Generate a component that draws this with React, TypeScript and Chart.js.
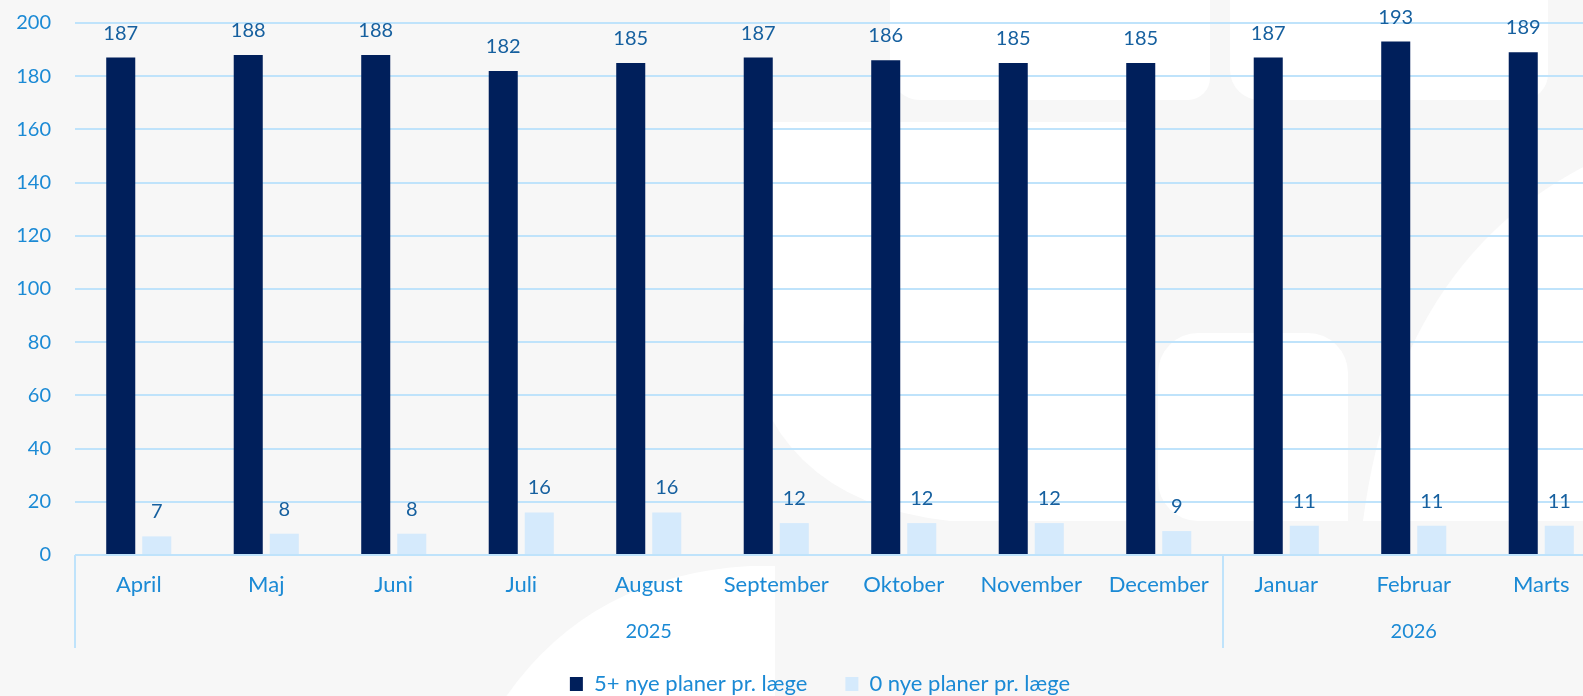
import React, { useEffect, useRef } from 'react';
import { Chart, registerables } from 'chart.js';

Chart.register(...registerables);

const months = ['April', 'Maj', 'Juni', 'Juli', 'August', 'September', 'Oktober', 'November', 'December', 'Januar', 'Februar', 'Marts'];
const years = ['2025', '2026'];
const yearSpans = [9, 3];
const seriesNames = ['5+ nye planer pr. læge', '0 nye planer pr. læge'];
const fivePlus = [187, 188, 188, 182, 185, 187, 186, 185, 185, 187, 193, 189];
const zeroPlans = [7, 8, 8, 16, 16, 12, 12, 12, 9, 11, 11, 11];
const yMin = 0;
const yMax = 200;
const yStep = 20;

const FONT = "Lato, 'Open Sans', sans-serif";
const BG = '#f7f7f7';
const DARK = '#001f5b';
const LIGHT = '#d5eafc';
const GRID = '#bfe3fb';
const TICK = '#1b8ad5';
const VALUE = '#16609f';

const backgroundPlugin = {
  id: 'bgWatermark',
  beforeDraw(chart: any) {
    const ctx = chart.ctx;
    const w = chart.width;
    const h = chart.height;
    ctx.save();
    ctx.fillStyle = BG;
    ctx.fillRect(0, 0, w, h);
    ctx.fillStyle = '#ffffff';
    // top blocks
    ctx.beginPath();
    ctx.roundRect(890, -40, 320, 140, [0, 0, 22, 30]);
    ctx.fill();
    ctx.beginPath();
    ctx.roundRect(1230, -40, 318, 140, [0, 0, 26, 30]);
    ctx.fill();
    // big middle region
    ctx.beginPath();
    ctx.moveTo(743, 122);
    ctx.lineTo(1150, 122);
    ctx.lineTo(1150, 521);
    ctx.lineTo(950, 521);
    ctx.quadraticCurveTo(760, 500, 743, 320);
    ctx.closePath();
    ctx.fill();
    // rounded window
    ctx.beginPath();
    ctx.roundRect(1158, 333, 190, 188, [40, 40, 0, 40]);
    ctx.fill();
    // diagonal band on the right
    ctx.beginPath();
    ctx.moveTo(w, 150);
    ctx.quadraticCurveTo(1400, 240, 1363, 521);
    ctx.lineTo(w, 521);
    ctx.closePath();
    ctx.fill();
    // bottom wedge
    ctx.beginPath();
    ctx.moveTo(505, h + 2);
    ctx.quadraticCurveTo(590, 575, 750, 566);
    ctx.lineTo(775, 566);
    ctx.lineTo(775, h + 2);
    ctx.closePath();
    ctx.fill();
    ctx.restore();
  },
};

const valueLabelPlugin = {
  id: 'valueLabels',
  afterDatasetsDraw(chart: any) {
    const ctx = chart.ctx;
    ctx.save();
    ctx.font = `20px ${FONT}`;
    ctx.fillStyle = VALUE;
    ctx.textAlign = 'center';
    ctx.textBaseline = 'alphabetic';
    chart.data.datasets.forEach((ds: any, di: number) => {
      const meta = chart.getDatasetMeta(di);
      meta.data.forEach((el: any, i: number) => {
        ctx.fillText(String(ds.data[i]), el.x, el.y - 18);
      });
    });
    ctx.restore();
  },
};

const yearGroupPlugin = {
  id: 'yearGroups',
  afterDraw(chart: any) {
    const ctx = chart.ctx;
    const xs = chart.scales.x;
    const bottom = chart.chartArea.bottom;
    const cw = xs.getPixelForValue(1) - xs.getPixelForValue(0);
    ctx.save();
    ctx.strokeStyle = GRID;
    ctx.lineWidth = 2;
    ctx.font = `20px ${FONT}`;
    ctx.fillStyle = TICK;
    ctx.textAlign = 'center';
    ctx.textBaseline = 'middle';
    let start = 0;
    years.forEach((yr, gi) => {
      const span = yearSpans[gi];
      const x0 = xs.getPixelForValue(start) - cw / 2;
      const x1 = xs.getPixelForValue(start + span - 1) + cw / 2;
      ctx.beginPath();
      ctx.moveTo(Math.round(x0), bottom);
      ctx.lineTo(Math.round(x0), 648);
      ctx.stroke();
      ctx.fillText(yr, (x0 + x1) / 2, 632);
      start += span;
    });
    ctx.restore();
  },
};

const legendShiftPlugin = {
  id: 'legendShift',
  afterLayout(chart: any) {
    const lg = chart.legend;
    if (!lg) return;
    const dx = 820 - (lg.left + lg.right) / 2;
    const dy = 684 - (lg.top + 38 + 11);
    lg.left += dx;
    lg.right += dx;
    lg.top += dy;
    lg.bottom += dy;
  },
};

export default function App() {
  const canvasRef = useRef<HTMLCanvasElement | null>(null);

  useEffect(() => {
    if (!canvasRef.current) return;
    const chart = new Chart(canvasRef.current, {
      type: 'bar',
      data: {
        labels: months,
        datasets: [
          {
            label: seriesNames[0],
            data: fivePlus,
            backgroundColor: DARK,
            categoryPercentage: 0.565,
            barPercentage: 0.806,
          },
          {
            label: seriesNames[1],
            data: zeroPlans,
            backgroundColor: LIGHT,
            categoryPercentage: 0.565,
            barPercentage: 0.806,
          },
        ],
      },
      options: {
        animation: false,
        responsive: true,
        maintainAspectRatio: false,
        layout: { padding: { top: 23, left: 0, right: 15, bottom: 0 } },
        scales: {
          x: {
            grid: { display: false, drawTicks: false },
            border: { display: false },
            ticks: { color: TICK, font: { family: FONT, size: 22 }, padding: 17, maxRotation: 0, autoSkip: false },
            afterFit(scale: any) {
              const lgH = scale.chart.legend ? scale.chart.legend.height : 0;
              scale.height = 696 - 555 - lgH;
              scale.paddingLeft = 0;
              scale.paddingRight = 0;
            },
          },
          y: {
            min: yMin,
            max: yMax,
            grid: { color: GRID, lineWidth: 2, drawTicks: false },
            border: { display: false },
            ticks: { stepSize: yStep, color: TICK, font: { family: FONT, size: 20 }, padding: 24 },
            afterFit(scale: any) {
              scale.width = 75;
              scale.paddingTop = 0;
              scale.paddingBottom = 0;
            },
          },
        },
        plugins: {
          legend: {
            position: 'bottom',
            labels: {
              boxWidth: 13,
              boxHeight: 14,
              padding: 38,
              color: TICK,
              font: { family: FONT, size: 22 },
            },
          },
          tooltip: { enabled: false },
        },
      },
      plugins: [backgroundPlugin, valueLabelPlugin, yearGroupPlugin, legendShiftPlugin],
    });
    return () => chart.destroy();
  }, []);

  return (
    <div style={{ position: 'fixed', left: 0, top: 0, width: 1583, height: 696, overflow: 'hidden', background: BG }}>
      <div style={{ position: 'relative', width: 1620, height: 696 }}>
        <canvas ref={canvasRef} />
      </div>
    </div>
  );
}
